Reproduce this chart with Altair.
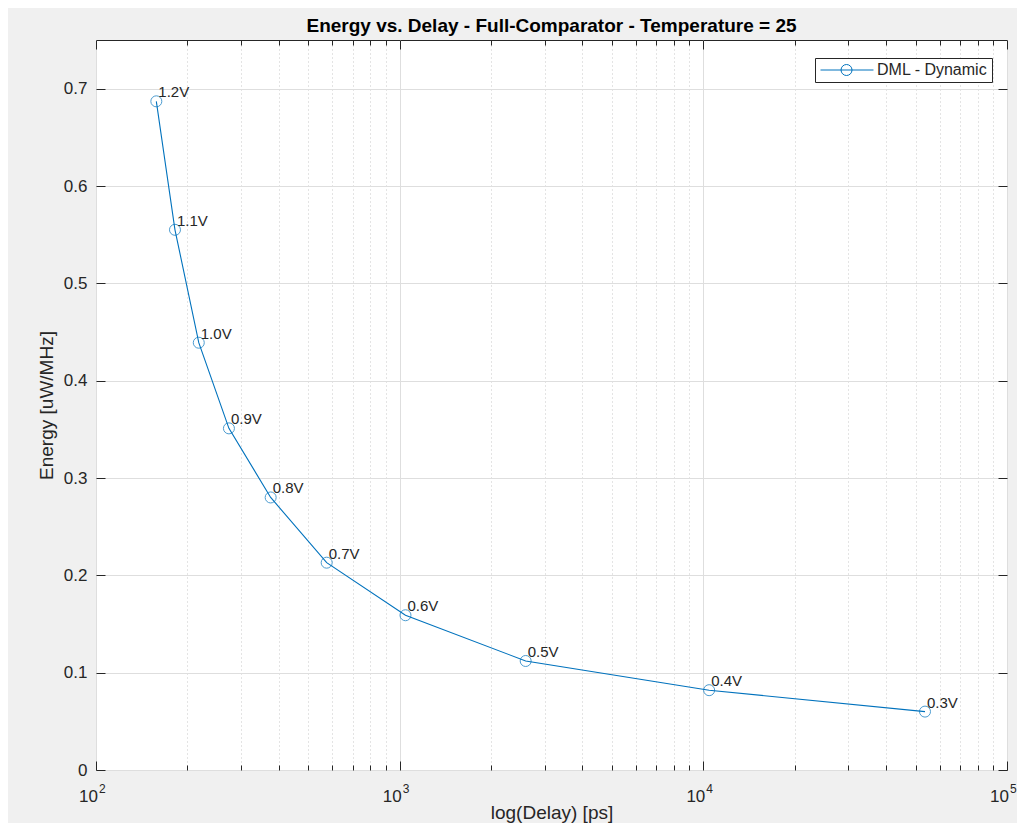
import altair as alt
import pandas as pd

# ---- data ----
voltages = ["1.2V", "1.1V", "1.0V", "0.9V", "0.8V", "0.7V", "0.6V", "0.5V", "0.4V", "0.3V"]
delay_ps = [158, 182, 218, 274, 376, 575, 1045, 2600, 10450, 53700]
energy = [0.687, 0.555, 0.439, 0.351, 0.280, 0.213, 0.159, 0.112, 0.082, 0.060]
series_name = "DML - Dynamic"

major_x = [100, 1000, 10000, 100000]
exponents = ["2", "3", "4", "5"]
minor_x = [k * 10 ** e for e in (2, 3, 4) for k in range(2, 10)]
y_ticks = [0, 0.1, 0.2, 0.3, 0.4, 0.5, 0.6, 0.7]

df = pd.DataFrame({"delay": delay_ps, "energy": energy, "label": voltages,
                   "series": [series_name] * len(voltages)})
dfx = pd.DataFrame({"v": major_x, "exp": exponents})
dfm = pd.DataFrame({"v": minor_x})

BLUE = "#0072BD"
INK = "#262626"
FONT = "Liberation Sans"
W, H = 911, 730

xs = alt.Scale(type="log", domain=[100, 100000], nice=False)
ys = alt.Scale(domain=[0, 0.75], nice=False, zero=False)

common_axis = dict(domain=False, labelFont=FONT, titleFont=FONT, tickColor=INK,
                   labelColor=INK, titleColor=INK)

# minor x grid (dotted) + inward minor ticks bottom
minor_bottom = alt.Chart(dfm).mark_point(opacity=0).encode(
    x=alt.X("v:Q", scale=xs, axis=alt.Axis(orient="bottom", values=minor_x, labels=False,
                                            grid=True, gridColor="#c8c8c8", gridDash=[1, 3],
                                            gridWidth=1, tickSize=5, offset=-5, title=None,
                                            **common_axis)),
)
minor_top = alt.Chart(dfm).mark_point(opacity=0).encode(
    x=alt.X("v:Q", scale=xs, axis=alt.Axis(orient="top", values=minor_x, labels=False,
                                            grid=False, tickSize=5, offset=-5, title=None,
                                            **common_axis)),
)
# top major ticks and right y ticks
mirror = alt.Chart(df).mark_point(opacity=0).encode(
    x=alt.X("delay:Q", scale=xs, axis=alt.Axis(orient="top", values=major_x, labels=False,
                                                grid=False, tickSize=9, offset=-9, title=None,
                                                **common_axis)),
    y=alt.Y("energy:Q", scale=ys, axis=alt.Axis(orient="right", values=y_ticks, labels=False,
                                                 grid=False, tickSize=9, offset=-9, title=None,
                                                 **common_axis)),
)

# legend glyph: line with an open circle, in units of half the symbol width (5.5 px)
legend_path = ("M-1.18,0L8.45,0"
               "M4.55,0A1,1,0,1,1,2.55,0A1,1,0,1,1,4.55,0")

line = alt.Chart(df).mark_line(strokeWidth=1.1).encode(
    x=alt.X("delay:Q", scale=xs,
            axis=alt.Axis(orient="bottom", values=major_x, labels=False, grid=True,
                          gridColor="#dedede", gridWidth=1, tickSize=9, offset=-9,
                          title="log(Delay) [ps]", titleFontSize=19, titleFontWeight="normal",
                          titlePadding=33, **common_axis)),
    y=alt.Y("energy:Q", scale=ys,
            axis=alt.Axis(orient="left", values=y_ticks, format=".1~f", grid=True,
                          gridColor="#dedede", gridWidth=1, tickSize=9, offset=-9,
                          labelFontSize=17, labelPadding=9,
                          title="Energy [uW/MHz]", titleFontSize=19, titleFontWeight="normal",
                          titlePadding=7, **common_axis)),
    color=alt.Color("series:N", scale=alt.Scale(range=[BLUE]),
                    legend=alt.Legend(title=None, orient="none", legendX=719, legendY=18,
                                      symbolType=legend_path, symbolSize=121,
                                      symbolStrokeWidth=1, symbolFillColor="transparent",
                                      symbolStrokeColor=BLUE,
                                      labelFont=FONT, labelFontSize=16, labelColor=INK,
                                      labelOffset=42, strokeColor=INK, fillColor="white",
                                      padding=4, cornerRadius=0)),
)

points = alt.Chart(df).mark_point(shape="circle", filled=False, size=121, strokeWidth=1,
                                  color=BLUE).encode(
    x=alt.X("delay:Q", scale=xs, axis=None),
    y=alt.Y("energy:Q", scale=ys, axis=None),
)

labels = alt.Chart(df).mark_text(align="left", baseline="middle", dx=2, dy=-9,
                                 font=FONT, fontSize=15, color=INK).encode(
    x=alt.X("delay:Q", scale=xs, axis=None),
    y=alt.Y("energy:Q", scale=ys, axis=None),
    text="label:N",
)

ten = alt.Chart(dfx).mark_text(align="right", baseline="alphabetic", dx=2, font=FONT,
                               fontSize=17, color=INK).encode(
    x=alt.X("v:Q", scale=xs, axis=None),
    y=alt.value(H + 32),
    text=alt.value("10"),
)
exps = alt.Chart(dfx).mark_text(align="left", baseline="alphabetic", dx=3, font=FONT,
                                fontSize=12, color=INK).encode(
    x=alt.X("v:Q", scale=xs, axis=None),
    y=alt.value(H + 23),
    text="exp:N",
)

chart = alt.layer(minor_bottom, minor_top, mirror, line, points, labels, ten, exps).resolve_axis(
    x="independent", y="independent"
).properties(
    width=W, height=H,
    title=alt.TitleParams("Energy vs. Delay - Full-Comparator - Temperature = 25",
                          font=FONT, fontSize=19, fontWeight="bold", color="#000000",
                          anchor="middle", offset=4),
    autosize=alt.AutoSizeParams(type="none"),
    padding={"left": 88, "top": 32, "right": 10, "bottom": 53},
    background="#f0f0f0",
).configure_view(fill="white", stroke=INK, strokeWidth=1)

chart.save("out.html", embed_options={"renderer": "svg", "actions": False})
